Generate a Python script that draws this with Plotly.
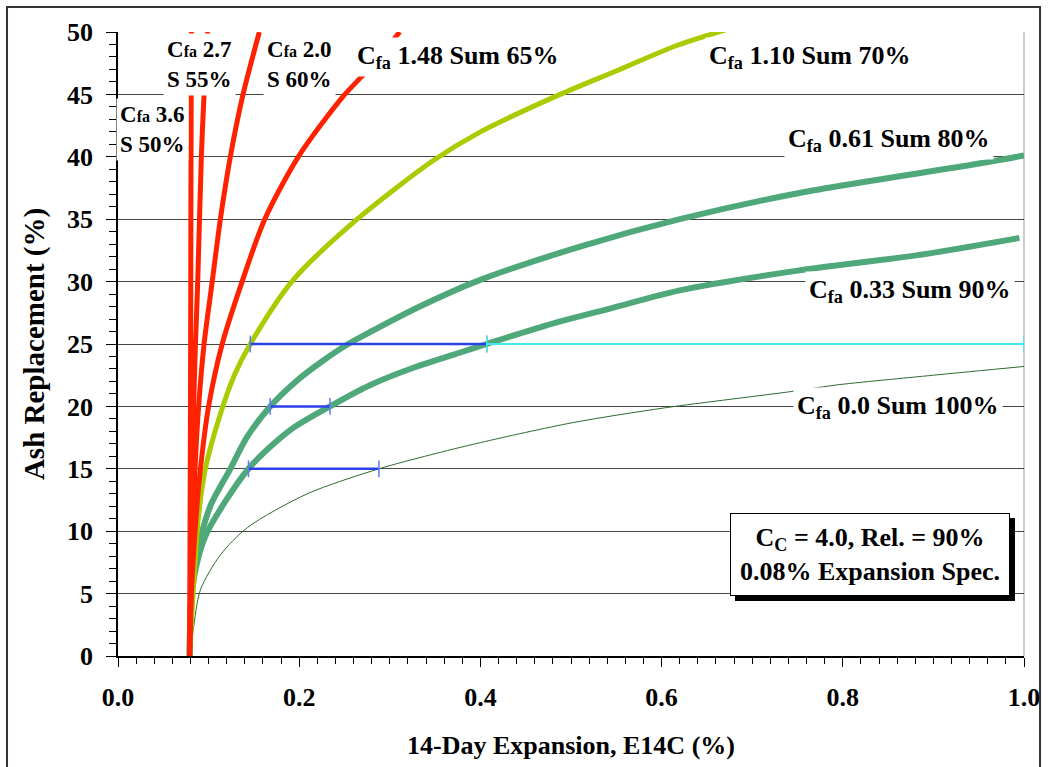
import plotly.graph_objects as go

# ---------------- data ----------------
# Cfa 3.6, S 50%
cfa36_x = [0.079, 0.0795, 0.080, 0.0803, 0.0806, 0.081]
cfa36_y = [0, 10, 20, 30, 40, 50]
# Cfa 2.7, S 55%
cfa27_x = [0.079, 0.081, 0.0835, 0.0855, 0.088, 0.092, 0.095, 0.099]
cfa27_y = [0, 10, 20, 25, 30, 40, 45, 50]
# Cfa 2.0, S 60%
cfa20_x = [0.079, 0.0805, 0.0825, 0.085, 0.089, 0.095, 0.104, 0.113, 0.124, 0.138, 0.156]
cfa20_y = [0, 5, 10, 15, 20, 25, 30, 35, 40, 45, 50]
# Cfa 1.48, Sum 65%
cfa148_x = [0.079, 0.081, 0.085, 0.091, 0.100, 0.115, 0.137, 0.162, 0.199, 0.248, 0.275, 0.311]
cfa148_y = [0, 5, 10, 15, 20, 25, 30, 35, 40, 44.8, 46.9, 50]
# Cfa 1.10, Sum 70%
cfa110_x = [0.079, 0.082, 0.0854, 0.0887, 0.0964, 0.113, 0.129, 0.146, 0.193, 0.264, 0.348, 0.400, 0.488, 0.554, 0.616, 0.672]
cfa110_y = [0, 4, 7.9, 11.1, 15.0, 19.4, 22.6, 25, 30.1, 35, 39.7, 42.0, 45, 47, 48.9, 50.2]
# Cfa 0.61, Sum 80%
cfa061_x = [0.079, 0.081, 0.0867, 0.093, 0.103, 0.124, 0.142, 0.168, 0.198, 0.227, 0.254, 0.282, 0.333, 0.395, 0.510, 0.620, 0.752, 0.954, 1.0]
cfa061_y = [0, 5, 7.9, 10, 12.2, 15, 17.5, 20, 22.1, 23.7, 25, 26.1, 28.0, 30.0, 32.8, 35.0, 37.1, 39.5, 40.1]
# Cfa 0.33, Sum 90%
cfa033_x = [0.079, 0.0815, 0.0887, 0.099, 0.144, 0.190, 0.234, 0.278, 0.326, 0.377, 0.407, 0.473, 0.546, 0.620, 0.752, 0.881, 0.995]
cfa033_y = [0, 5, 7.9, 10, 15, 18.1, 20, 21.7, 23.1, 24.3, 25, 26.5, 27.9, 29.3, 30.9, 32.1, 33.5]
# Cfa 0.0, Sum 100%
cfa000_x = [0.079, 0.083, 0.091, 0.113, 0.143, 0.209, 0.288, 0.344, 0.400, 0.502, 0.605, 0.744, 0.791, 0.900, 1.0]
cfa000_y = [0, 2.1, 5.3, 8.1, 10.3, 13.0, 15, 16.1, 17.1, 18.7, 19.9, 21.2, 21.7, 22.5, 23.2]

# spec arrows
arrow_levels = [25, 20, 15]
arrow_start = [0.146, 0.168, 0.144]
arrow_end = [0.407, 0.234, 0.288]
cyan_x = [0.407, 1.0]
cyan_y = [25, 25]

x_ticks = [0.0, 0.2, 0.4, 0.6, 0.8, 1.0]
x_ticktext = ["0.0", "0.2", "0.4", "0.6", "0.8", "1.0"]
y_ticks = [0, 5, 10, 15, 20, 25, 30, 35, 40, 45, 50]

# ---------------- styles ----------------
RED = "#FF2200"
YEL = "#A8CC00"
GRN = "#4FA87A"
DGRN = "#2F6B2F"
BLUE = "#2B40E8"
CYAN = "#40E8F0"
FONT = "Liberation Serif"

fig = go.Figure()

def curve(x, y, color, width):
    fig.add_trace(go.Scatter(x=x, y=y, mode="lines",
                             line=dict(color=color, width=width, shape="spline", smoothing=0.8),
                             hoverinfo="skip"))

curve(cfa000_x, cfa000_y, DGRN, 1)
curve(cfa033_x, cfa033_y, GRN, 6)
curve(cfa061_x, cfa061_y, GRN, 6)
curve(cfa110_x, cfa110_y, YEL, 5)
curve(cfa148_x, cfa148_y, RED, 5)
curve(cfa20_x, cfa20_y, RED, 5)
curve(cfa27_x, cfa27_y, RED, 5)
curve(cfa36_x, cfa36_y, RED, 5)

for lvl, xs, xe in zip(arrow_levels, arrow_start, arrow_end):
    fig.add_trace(go.Scatter(x=[xs, xe], y=[lvl, lvl], mode="lines+markers",
                             line=dict(color=BLUE, width=2.5),
                             marker=dict(symbol="line-ns", size=12,
                                         line=dict(color="#5C78FF", width=1.5)),
                             hoverinfo="skip"))
fig.add_trace(go.Scatter(x=cyan_x, y=cyan_y, mode="lines+markers",
                         line=dict(color=CYAN, width=2),
                         marker=dict(symbol="line-ns", size=12, line=dict(color=CYAN, width=1.5)),
                         hoverinfo="skip"))

def label(text, x, y, size=26, pad=3):
    fig.add_annotation(x=x, y=y, xref="x", yref="y", text=text, showarrow=False,
                       font=dict(family=FONT, size=size, color="black", weight="bold"),
                       bgcolor="white", borderpad=pad, align="left")

small = "<span style='font-size:16px'>fa</span>"
label("C" + small + " 3.6<br>S 50%", 0.0386, 42.15, size=23)
label("C" + small + " 2.7<br>S 55%", 0.0905, 47.36, size=23)
label("C" + small + " 2.0<br>S 60%", 0.1998, 47.36, size=23)
label("C<sub>fa</sub> 1.48 Sum 65%", 0.375, 48.0)
label("C<sub>fa</sub> 1.10 Sum 70%", 0.764, 48.0)
label("C<sub>fa</sub> 0.61 Sum 80%", 0.851, 41.35)
label("C<sub>fa</sub> 0.33 Sum 90%", 0.874, 29.25)
label("C<sub>fa</sub> 0.0 Sum 100%", 0.861, 19.95)

box_text = "C<sub>C</sub> = 4.0, Rel. = 90%<br>0.08% Expansion Spec."
fig.add_annotation(x=0.830, y=8.15, xref="x", yref="y", text=box_text, showarrow=False,
                   font=dict(family=FONT, size=26, color="black", weight="bold"),
                   bgcolor="black", bordercolor="black", borderwidth=1, borderpad=9,
                   xshift=5, yshift=-5)
fig.add_annotation(x=0.830, y=8.15, xref="x", yref="y", text=box_text, showarrow=False,
                   font=dict(family=FONT, size=26, color="black", weight="bold"),
                   bgcolor="white", bordercolor="black", borderwidth=1, borderpad=9)

# outer frame and plot right border
fig.add_shape(type="rect", xref="paper", yref="paper", x0=-0.1225, x1=1.0177, y0=-0.2, y1=1.040,
              line=dict(color="#333333", width=2), layer="above")
fig.add_shape(type="line", xref="paper", yref="paper", x0=1, x1=1, y0=0, y1=1,
              line=dict(color="#BBBBBB", width=1.5), layer="below")

fig.update_layout(
    width=1050, height=767,
    margin=dict(l=118, r=26, t=32, b=111),
    plot_bgcolor="white", paper_bgcolor="white",
    showlegend=False,
    xaxis=dict(range=[0, 1], tickvals=x_ticks, ticktext=x_ticktext,
               showline=True, linecolor="black", linewidth=1.5,
               ticks="outside", ticklen=9, tickcolor="black", tickwidth=1,
               minor=dict(dtick=0.02, ticks="outside", ticklen=6, tickcolor="black", showgrid=False),
               showgrid=False, zeroline=False, automargin=False,
               tickfont=dict(family=FONT, size=26, color="black", weight="bold"),
               ticklabelstandoff=8,
               title=dict(text="14-Day Expansion, E14C (%)", standoff=25,
                          font=dict(family=FONT, size=26, color="black", weight="bold"))),
    yaxis=dict(range=[0, 50], tickvals=y_ticks,
               showline=True, linecolor="black", linewidth=1.5,
               ticks="outside", ticklen=10, tickcolor="black", tickwidth=1,
               minor=dict(dtick=1, ticks="outside", ticklen=7, tickcolor="black", showgrid=False),
               showgrid=True, gridcolor="#444444", gridwidth=1, zeroline=False, automargin=False,
               tickfont=dict(family=FONT, size=26, color="black", weight="bold"),
               ticklabelstandoff=8,
               title=dict(text="Ash Replacement (%)", standoff=14,
                          font=dict(family=FONT, size=29, color="black", weight="bold"))),
)

fig.write_html("out.html")
